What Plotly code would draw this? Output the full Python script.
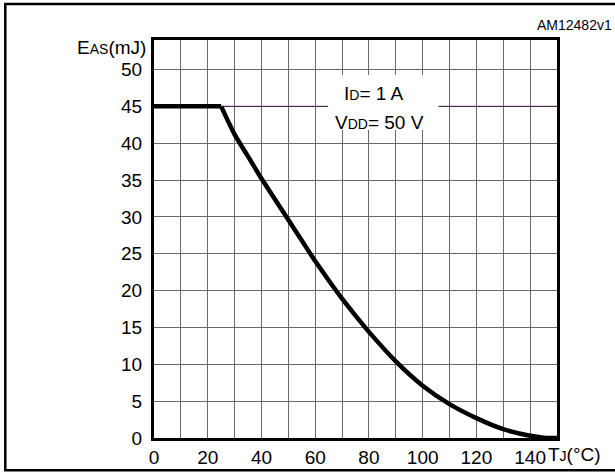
import plotly.graph_objects as go

# Data
tj_c = [0, 25, 30, 35, 40, 45, 50, 55, 60, 65, 70, 75, 80, 90, 100, 110, 120, 130, 140, 145, 150]
eas_mj = [45, 45, 41.2, 38.2, 35.2, 32.4, 29.6, 26.8, 24.0, 21.4, 18.9, 16.6, 14.4, 10.4, 7.1,
          4.6, 2.7, 1.2, 0.3, 0.05, 0]
knee = 1  # index where the flat limit ends

x_ticks = [0, 20, 40, 60, 80, 100, 120, 140]
y_ticks = [0, 5, 10, 15, 20, 25, 30, 35, 40, 45, 50]

FONT = "Liberation Sans, Arial, sans-serif"
GRID = "#6a6a6a"
CURVE = dict(color="black", width=4.5)

fig = go.Figure()
fig.add_trace(go.Scatter(x=tj_c[:knee + 1], y=eas_mj[:knee + 1], mode="lines",
                         line=CURVE, hoverinfo="skip", showlegend=False))
fig.add_trace(go.Scatter(x=tj_c[knee:], y=eas_mj[knee:], mode="lines",
                         line=dict(CURVE, shape="spline", smoothing=0.8),
                         hoverinfo="skip", showlegend=False))

fig.update_layout(
    width=615, height=473,
    margin=dict(l=154, r=58, t=40, b=35),
    paper_bgcolor="white", plot_bgcolor="white",
    font=dict(family=FONT, size=19, color="black"),
    showlegend=False,
)
fig.update_xaxes(range=[0, 150], tickvals=x_ticks, ticktext=[str(v) for v in x_ticks],
                 showgrid=True, gridcolor=GRID, gridwidth=1,
                 minor=dict(dtick=10, showgrid=True, gridcolor=GRID, gridwidth=1),
                 showline=True, linecolor="black", linewidth=3, mirror=True,
                 ticks="", ticklabelstandoff=0, zeroline=False, fixedrange=True,
                 automargin=False)
fig.update_yaxes(range=[0, 54], tickvals=y_ticks, ticktext=[str(v) for v in y_ticks],
                 showgrid=True, gridcolor=GRID, gridwidth=1,
                 showline=True, linecolor="black", linewidth=3, mirror=True,
                 ticks="", ticklabelstandoff=5, zeroline=False, fixedrange=True,
                 automargin=False)

# purple reference line at 45 mJ, then white label box
fig.add_shape(type="line", xref="x", yref="y", x0=25, x1=150, y0=45, y1=45,
              line=dict(color="#4a1a4a", width=1), layer="above")
fig.add_shape(type="rect", xref="x", yref="y", x0=64.8, x1=105.9, y0=41.8, y1=49.25,
              fillcolor="white", line=dict(width=0), layer="above")

sm = '<span style="font-size:14px">{}</span>'
fig.add_annotation(xref="x", yref="y", x=70.0, y=46.7, xanchor="left", yanchor="middle",
                   text="I" + sm.format("D") + "= 1 A", showarrow=False,
                   font=dict(size=19))
fig.add_annotation(xref="x", yref="y", x=66.7, y=42.8, xanchor="left", yanchor="middle",
                   text="V" + sm.format("DD") + "= 50 V", showarrow=False,
                   font=dict(size=19))

# axis titles and id
fig.add_annotation(xref="paper", yref="paper", x=-0.0157, y=0.98, xanchor="right",
                   yanchor="middle", text="E" + sm.format("AS") + "(mJ)", showarrow=False,
                   font=dict(size=19))
fig.add_annotation(xref="paper", yref="paper", x=0.972, y=-0.042, xanchor="left",
                   yanchor="middle", text="T" + sm.format("J") + "(°C)", showarrow=False,
                   font=dict(size=19))
fig.add_annotation(xref="paper", yref="paper", x=1.142, y=1.0377, xanchor="right",
                   yanchor="middle", text="AM12482v1", showarrow=False,
                   font=dict(size=14))

# outer frame (right side runs past the page edge)
fig.add_shape(type="rect", xref="paper", yref="paper", x0=-0.369, x1=1.2, y0=-0.081, y1=1.0905,
              line=dict(color="black", width=2.5), fillcolor="rgba(0,0,0,0)", layer="above")

fig.write_html("out.html", config={"displayModeBar": False},
               post_script="document.body.style.margin='0';document.body.style.overflow='hidden';")
